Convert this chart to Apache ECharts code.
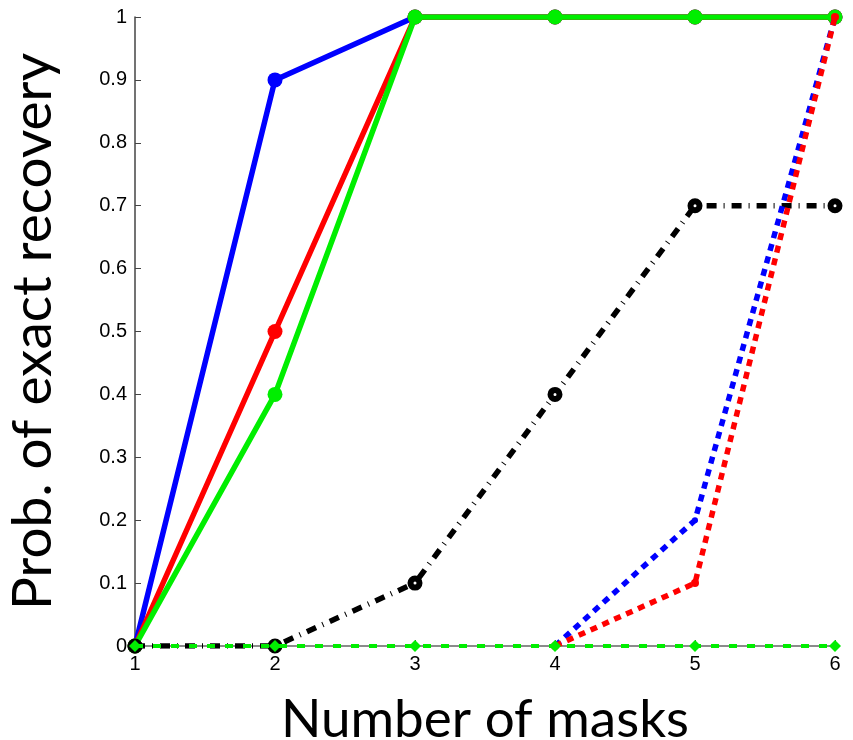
<!DOCTYPE html>
<html>
<head>
<meta charset="utf-8">
<script src="https://cdn.jsdelivr.net/npm/echarts@6/dist/echarts.min.js"></script>
<style>
  html, body { margin: 0; padding: 0; background: #fff; }
  #chart { width: 853px; height: 740px; }
</style>
</head>
<body>
<div id="chart"></div>
<script>
// Number of masks on the x axis
const masks = [1, 2, 3, 4, 5, 6];

// Probability of exact recovery for each method (null = not plotted)
const blueSolid  = [0, 0.9, 1, 1, 1, 1];
const redSolid   = [0, 0.5, 1, 1, 1, 1];
const greenSolid = [0, 0.4, 1, 1, 1, 1];
const blackDashDot = [0, 0, 0.1, 0.4, 0.7, 0.7];
const blueDotted = [null, null, null, 0, 0.2, 1];
const redDotted  = [null, null, null, 0, 0.1, 1];
const greenDashed = [0, 0, 0, 0, 0, 0];

const pairs = vals => masks.map((m, i) => [m, vals[i]]);

function lineSeries(name, vals, color, opts) {
  return Object.assign({
    name: name,
    type: 'line',
    data: pairs(vals),
    symbol: 'circle',
    symbolSize: 15,
    showSymbol: true,
    animation: false,
    lineStyle: { color: color, width: 5.5, type: 'solid', cap: 'butt' },
    itemStyle: { color: color, borderWidth: 0 },
    emphasis: { disabled: true }
  }, opts || {});
}

const chart = echarts.init(document.getElementById('chart'), null, { renderer: 'canvas' });

chart.setOption({
  backgroundColor: '#fff',
  grid: {
    left: 135, right: 18, top: 17, bottom: 94,
    containLabel: false, outerBoundsMode: 'none'
  },
  xAxis: {
    type: 'value',
    min: 1, max: 6, interval: 1,
    name: 'Number of masks',
    nameLocation: 'middle',
    nameGap: 47,
    nameTextStyle: { fontFamily: 'Lato', fontSize: 53, color: '#000' },
    axisLine: { show: true, onZero: false, lineStyle: { color: '#666', width: 1.5 } },
    axisTick: { show: true, inside: true, length: 6, lineStyle: { color: '#444' } },
    axisLabel: { fontFamily: 'Liberation Sans', fontSize: 20, color: '#000', margin: 8 },
    splitLine: { show: false }
  },
  yAxis: {
    type: 'value',
    min: 0, max: 1, interval: 0.1,
    name: 'Prob. of exact recovery',
    nameLocation: 'middle',
    nameGap: 74,
    nameTextStyle: { fontFamily: 'Lato', fontSize: 55, color: '#000' },
    axisLine: { show: true, lineStyle: { color: '#444', width: 1.5 } },
    axisTick: { show: true, inside: true, length: 6, lineStyle: { color: '#444' } },
    axisLabel: {
      fontFamily: 'Liberation Sans', fontSize: 20, color: '#000', margin: 8,
      formatter: v => String(Math.round(v * 10) / 10)
    },
    splitLine: { show: false }
  },
  series: [
    lineSeries('blue', blueSolid, '#0000ff', { z: 2 }),
    lineSeries('red', redSolid, '#ff0000', { z: 3 }),
    lineSeries('green', greenSolid, '#00ee00', { z: 4 }),
    lineSeries('black', blackDashDot, '#000000', {
      z: 5,
      symbolSize: 9,
      lineStyle: { color: '#000', width: 5.5, type: [10, 7, 1, 7], cap: 'butt' },
      itemStyle: { color: '#fff', borderColor: '#000', borderWidth: 6 }
    }),
    lineSeries('blueDot', blueDotted, '#0000ff', {
      z: 6,
      symbolSize: 6,
      lineStyle: { color: '#0000ff', width: 5.5, type: [7, 6], cap: 'butt' }
    }),
    lineSeries('redDot', redDotted, '#ff0000', {
      z: 7,
      symbolSize: 8,
      lineStyle: { color: '#ff0000', width: 5.5, type: [7, 6], cap: 'butt' }
    }),
    lineSeries('greenDash', greenDashed, '#00ee00', {
      z: 8,
      symbol: 'diamond',
      symbolSize: 12,
      lineStyle: { color: '#00ee00', width: 4, type: [8, 10], cap: 'butt' }
    })
  ]
});
</script>
</body>
</html>
